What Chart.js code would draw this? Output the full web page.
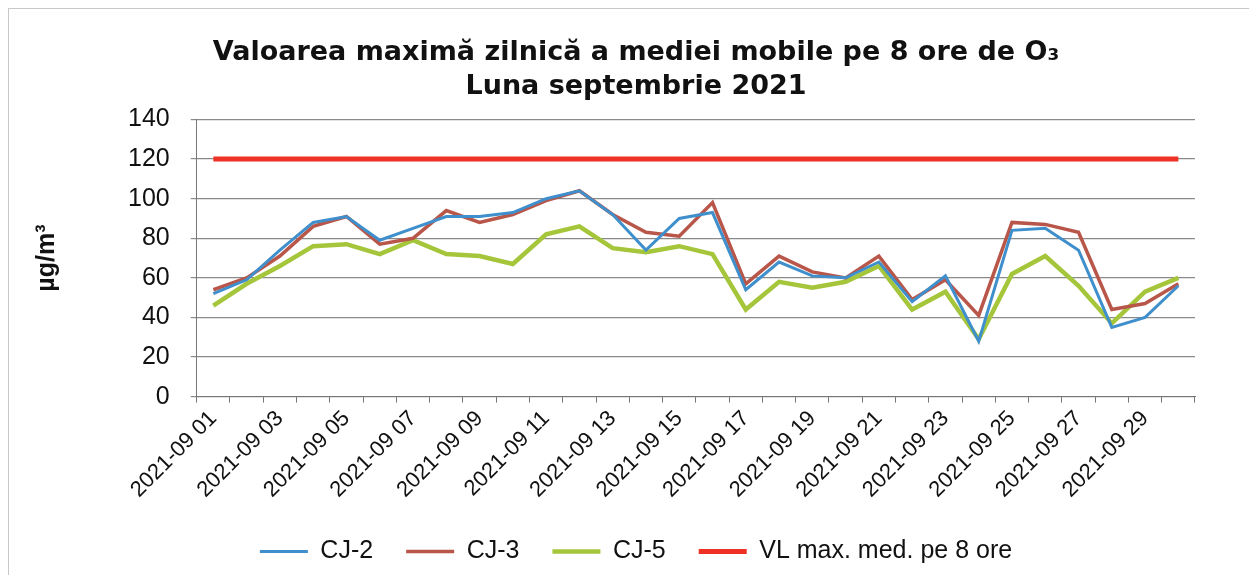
<!DOCTYPE html>
<html>
<head>
<meta charset="utf-8">
<script src="https://cdn.jsdelivr.net/npm/chart.js@4.4.0/dist/chart.umd.min.js"></script>
<style>
  html, body { margin: 0; padding: 0; background: #fff; }
  #frame { position: absolute; left: 8px; top: 8px; width: 1240px; height: 580px;
           border-left: 1px solid #c8c8c8; border-top: 1px solid #c8c8c8; }
  #wrap { position: absolute; left: 0; top: 0; width: 1251px; height: 575px; }
</style>
</head>
<body>
<div id="frame"></div>
<div id="wrap"><canvas id="chart" width="1251" height="575"></canvas></div>
<script>
// ── Data ───────────────────────────────────────────────────
const days = Array.from({ length: 30 }, (_, i) => '2021-09 ' + String(i + 1).padStart(2, '0'));

const cj2 = [52, 59, 74, 88, 91, 79, 85, 91, 91, 93, 100, 104, 92, 74, 90, 93,
             54, 68, 61, 60, 68, 48, 61, 28, 84, 85, 74, 35, 40, 56];
const cj3 = [54, 60, 71, 86, 91, 77, 80, 94, 88, 92, 99, 104, 92, 83, 81, 98,
             57, 71, 63, 60, 71, 49, 59, 41, 88, 87, 83, 44, 47, 57];
const cj5 = [46, 57, 66, 76, 77, 72, 79, 72, 71, 67, 82, 86, 75, 73, 76, 72,
             44, 58, 55, 58, 66, 44, 53, 29, 62, 71, 56, 37, 53, 60];
const vl  = days.map(() => 120);

const yTicks = [0, 20, 40, 60, 80, 100, 120, 140];

// ── Chart ──────────────────────────────────────────────────
const FONT = 'Liberation Sans, Arial, sans-serif';

new Chart(document.getElementById('chart').getContext('2d'), {
  type: 'line',
  data: {
    labels: days,
    datasets: [
      { label: 'CJ-2', data: cj2, borderColor: '#3f8fcc', borderWidth: 3, pointRadius: 0, tension: 0 },
      { label: 'CJ-3', data: cj3, borderColor: '#b9564a', borderWidth: 3.5, pointRadius: 0, tension: 0 },
      { label: 'CJ-5', data: cj5, borderColor: '#a5c63b', borderWidth: 4.5, pointRadius: 0, tension: 0 },
      { label: 'VL max. med. pe 8 ore', data: vl, borderColor: '#ee3124', borderWidth: 5, pointRadius: 0, tension: 0 }
    ]
  },
  options: {
    responsive: false,
    animation: false,
    // left padding centres title/legend like the original; the y title is pulled back with negative padding
    layout: { padding: { left: 77, right: 56, top: 0, bottom: 1 } },
    plugins: {
      title: {
        display: true,
        text: ['Valoarea maximă zilnică a mediei mobile pe 8 ore de O₃', 'Luna septembrie 2021'],
        color: '#111',
        font: { family: 'DejaVu Sans, sans-serif', size: 27, weight: 'bold', lineHeight: 1.25 },
        padding: { top: 36, bottom: 16 }
      },
      legend: {
        position: 'bottom',
        labels: {
          color: '#111',
          font: { family: FONT, size: 25 },
          boxWidth: 48, boxHeight: 0, padding: 33
        }
      },
      tooltip: { enabled: false }
    },
    scales: {
      x: {
        offset: true,
        grid: { offset: true, drawOnChartArea: false, color: '#777', tickLength: 6 },
        border: { color: '#777' },
        ticks: {
          autoSkip: false,
          maxRotation: 45, minRotation: 45,
          color: '#111',
          font: { family: FONT, size: 22 },
          callback: (v, i) => (i % 2 === 0 ? days[i] : '')
        }
      },
      y: {
        min: 0, max: 140,
        afterBuildTicks: s => { s.ticks = yTicks.map(v => ({ value: v })); },
        grid: { color: '#8a8a8a', lineWidth: 1.2, tickLength: 6 },
        border: { color: '#777' },
        ticks: { color: '#111', font: { family: FONT, size: 25 }, padding: 21 },
        title: {
          display: true, text: 'µg/m³', color: '#111',
          font: { family: FONT, size: 25, weight: 'bold' }, padding: { top: -45, bottom: 45 }
        }
      }
    }
  }
});
</script>
</body>
</html>
